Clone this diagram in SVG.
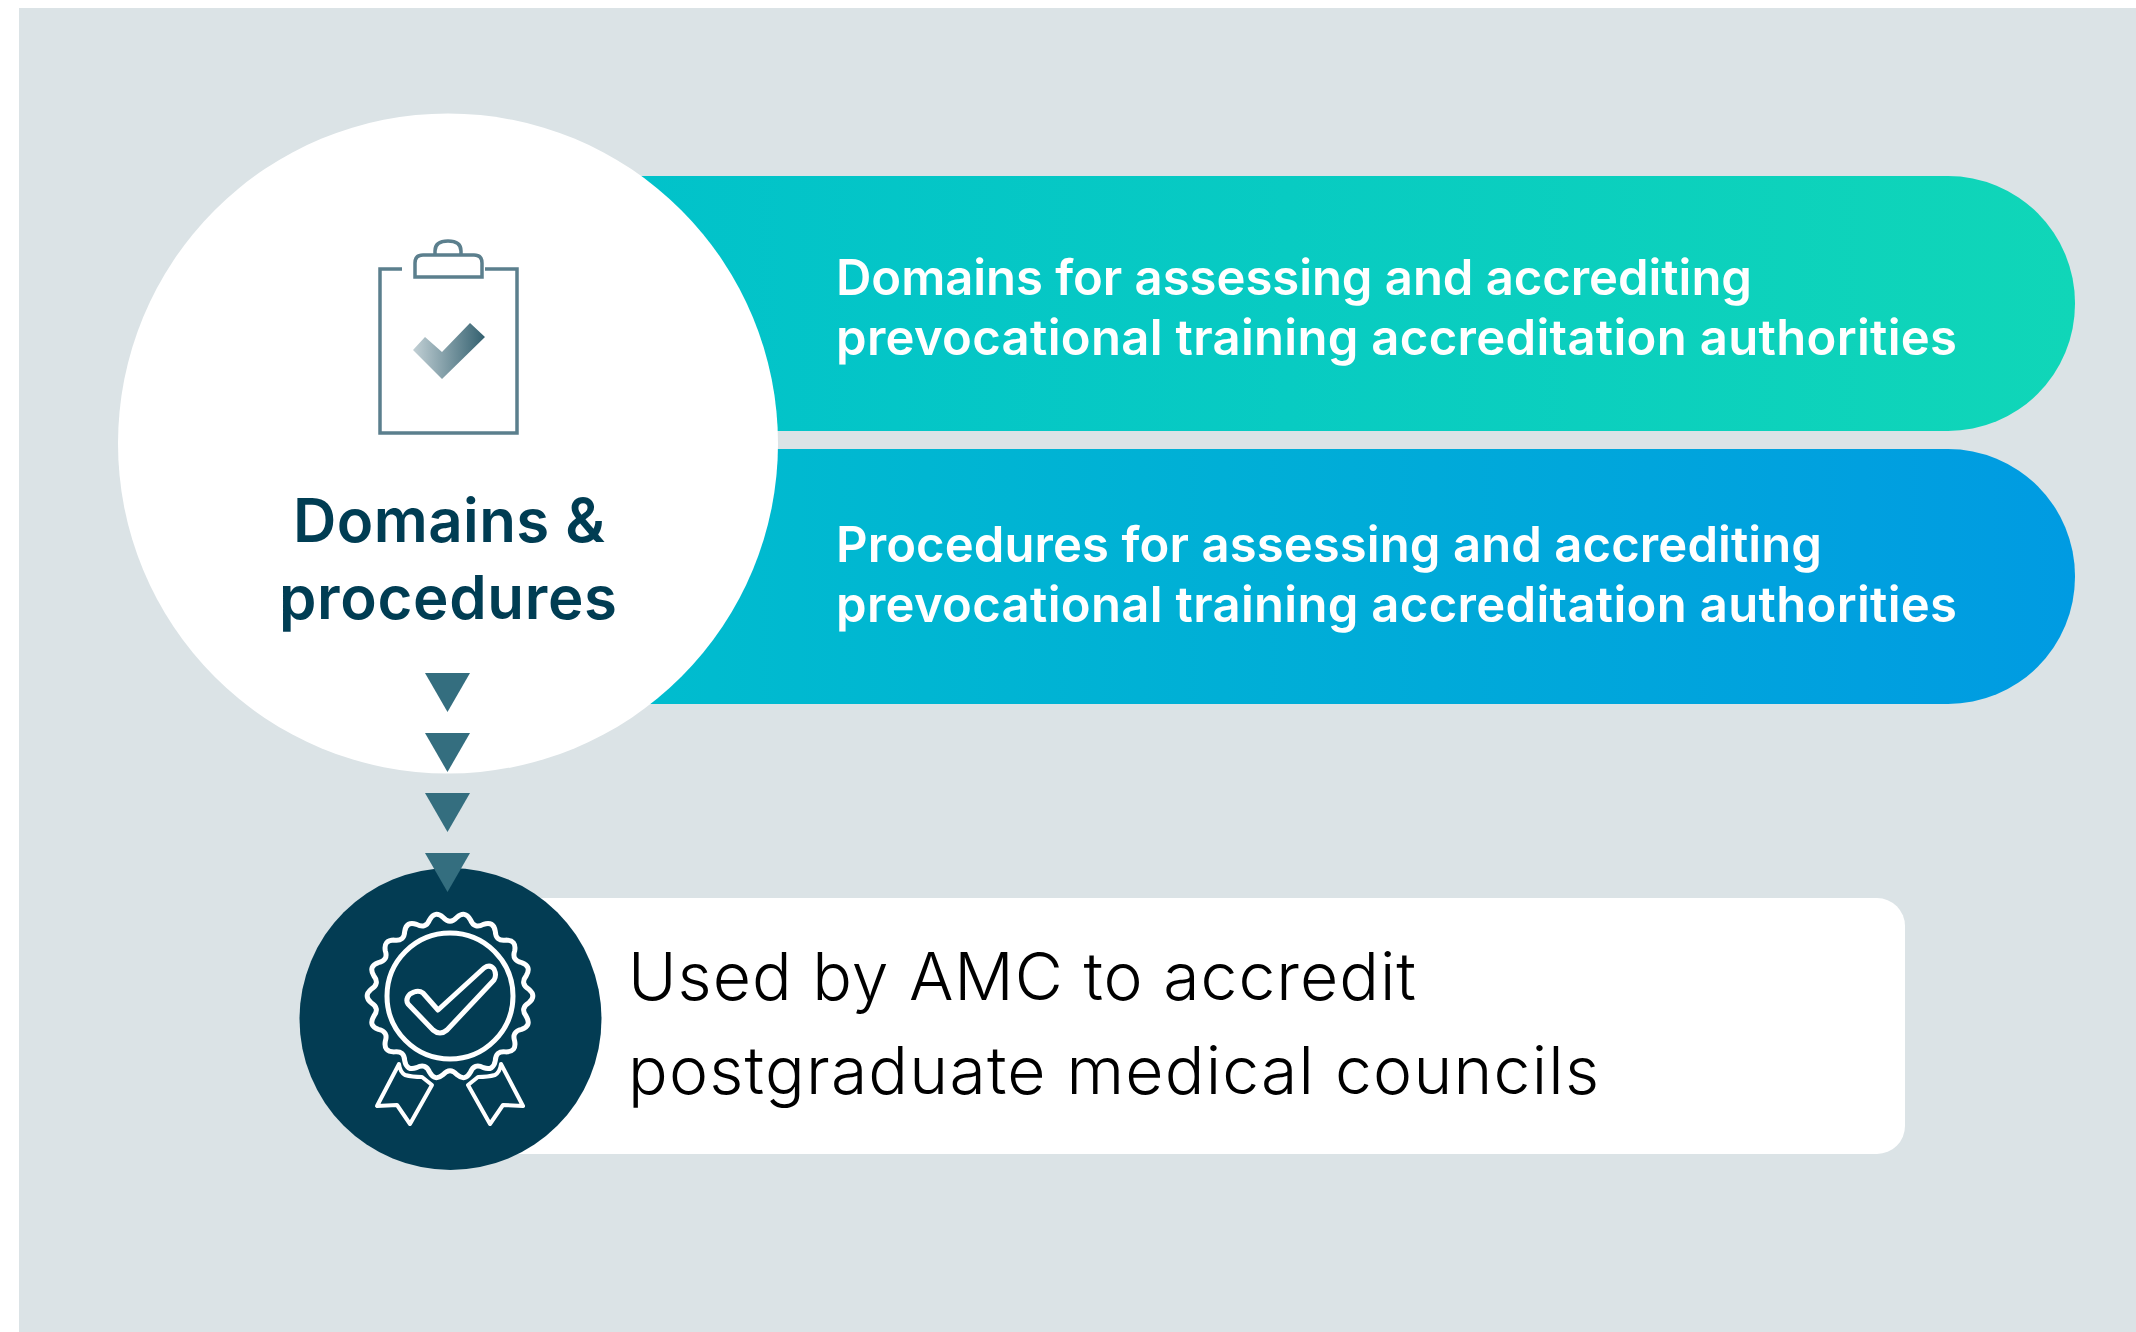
<svg xmlns="http://www.w3.org/2000/svg" width="2136" height="1332" viewBox="0 0 2136 1332">
<defs>
<linearGradient id="g1" x1="0" x2="1" y1="0" y2="0"><stop offset="0" stop-color="#00c0cc"/><stop offset="1" stop-color="#10d6b8"/></linearGradient>
<linearGradient id="g2" x1="0" x2="1" y1="0" y2="0"><stop offset="0" stop-color="#00c0cc"/><stop offset="1" stop-color="#009be2"/></linearGradient>
<linearGradient id="chk" x1="0" x2="1" y1="0" y2="0"><stop offset="0" stop-color="#c2d0d5"/><stop offset="1" stop-color="#33606f"/></linearGradient>
<polygon id="tri" points="425,673 470,673 447.5,712" fill="#346e7f"/>
<filter id="soft" x="-5%" y="-20%" width="110%" height="140%"><feGaussianBlur stdDeviation="0.7"/></filter>
</defs>
<style>
.p{font-family:"Inter","Liberation Sans",sans-serif;font-size:49px;font-weight:600;fill:#fff;filter:url(#soft)}
.h{font-family:"Inter","Liberation Sans",sans-serif;font-size:60px;font-weight:600;fill:#033c53;filter:url(#soft)}
.u{font-family:"Inter","Liberation Sans",sans-serif;font-size:66px;font-weight:300;fill:#000}
</style>
<rect x="19" y="8" width="2117" height="1324" fill="#dbe3e6"/>
<g id="pill1"><rect x="500" y="176" width="1575" height="255" rx="127" fill="url(#g1)"/>
<text class="p" x="836" y="295" textLength="916">Domains for assessing and accrediting</text>
<text class="p" x="836" y="355" textLength="1121">prevocational training accreditation authorities</text></g>
<g id="pill2"><rect x="500" y="449" width="1575" height="255" rx="127" fill="url(#g2)"/>
<text class="p" x="836" y="562" textLength="986">Procedures for assessing and accrediting</text>
<text class="p" x="836" y="622" textLength="1121">prevocational training accreditation authorities</text></g>
<g id="domains"><circle cx="448" cy="443.5" r="330" fill="#fff"/>
<g fill="none" stroke="#5b7f8d" stroke-width="3.5">
<path d="M402 269H380V433H517V269H485"/>
<path d="M415 277V263Q415 255 423 255H474Q482 255 482 263V277Z"/>
<path d="M435 255V251Q435 241 448 241Q461 241 461 251V255"/></g>
<polygon points="413,350 425,337 442,352 470,323 485,337 442,379" fill="url(#chk)"/>
<text class="h" x="293" y="542" textLength="312">Domains &amp;</text>
<text class="h" x="279" y="619" textLength="338">procedures</text></g>
<g id="used"><rect x="450" y="898" width="1455" height="256" rx="28" fill="#fff"/>
<circle cx="450.500" cy="1019" r="151" fill="#033c53"/>
<g fill="none" stroke="#fff" stroke-width="5" stroke-linejoin="round" stroke-linecap="round">
<circle cx="450" cy="996" r="63"/>
<path d="M410 994L414 992Q419 990 423 993L438 1010L484 968Q490 964 494 969Q497 975 494 980L447 1030Q440 1036 433 1030L408 1004Q405 999 410 994Z"/>
<path d="M399 1064L377 1106L397 1105L410 1124L432 1085L422 1077Q412 1077 405 1075Q400 1072 399 1064Z" stroke-width="4"/>
<path d="M501 1064L523 1106L503 1105L490 1124L468 1085L478 1077Q488 1077 495 1075Q500 1072 501 1064Z" stroke-width="4"/>
<path transform="translate(450 996)" d="M78.700 -6.900Q87 0 78.700 6.900Q69.900 12.300 76.300 20.400Q81.800 29.800 71.600 33.400Q61.500 35.500 64.700 45.300Q66.600 55.900 55.900 55.900Q45.600 54.400 45.300 64.700Q43.500 75.300 33.400 71.600Q24.300 66.700 20.400 76.300Q15.100 85.700 6.900 78.700Q0 71 -6.900 78.700Q-15.100 85.700 -20.400 76.300Q-24.300 66.700 -33.400 71.600Q-43.500 75.300 -45.300 64.700Q-45.600 54.400 -55.900 55.900Q-66.600 55.900 -64.700 45.300Q-61.500 35.500 -71.600 33.400Q-81.800 29.800 -76.300 20.400Q-69.900 12.300 -78.700 6.900Q-87 0 -78.700 -6.900Q-69.900 -12.300 -76.300 -20.400Q-81.800 -29.800 -71.600 -33.400Q-61.500 -35.500 -64.700 -45.300Q-66.600 -55.900 -55.900 -55.900Q-45.600 -54.400 -45.300 -64.700Q-43.500 -75.300 -33.400 -71.600Q-24.300 -66.700 -20.400 -76.300Q-15.100 -85.700 -6.900 -78.700Q0 -71 6.900 -78.700Q15.100 -85.700 20.400 -76.300Q24.300 -66.700 33.400 -71.600Q43.500 -75.300 45.300 -64.700Q45.600 -54.400 55.900 -55.900Q66.600 -55.900 64.700 -45.300Q61.500 -35.500 71.600 -33.400Q81.800 -29.800 76.300 -20.400Q69.900 -12.300 78.700 -6.900Z"/>
</g>
<text class="u" x="628" y="1000" textLength="788">Used by AMC to accredit</text>
<text class="u" x="628" y="1094" textLength="971">postgraduate medical councils</text></g>
<g id="connectors"><use href="#tri"/><use href="#tri" y="60"/><use href="#tri" y="120"/><use href="#tri" y="180"/></g>
</svg>
